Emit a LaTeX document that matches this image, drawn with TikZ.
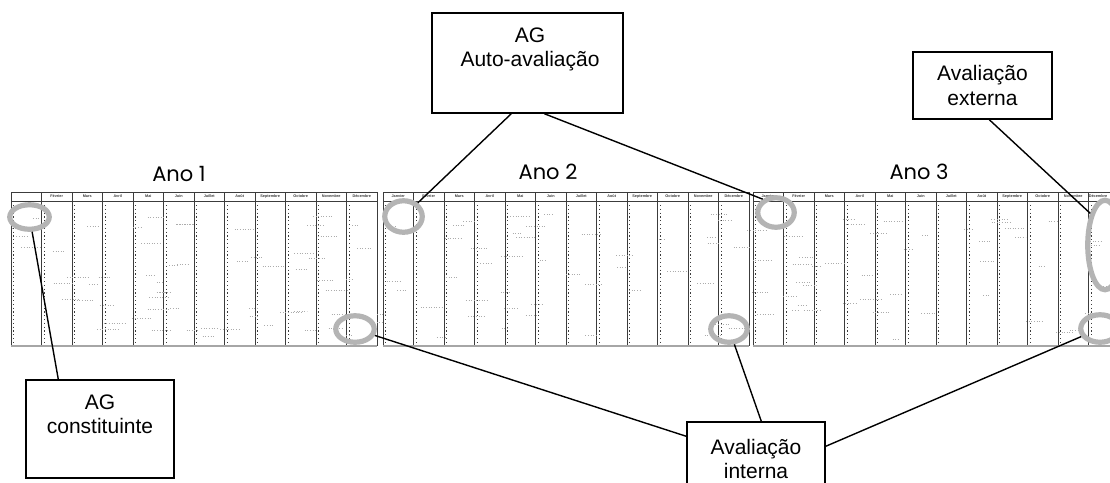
\documentclass[tikz,border=0pt]{standalone}
\usepackage{fontspec}
\setmainfont{Liberation Sans}
\newfontfamily\anofont{Poppins}
\usetikzlibrary{shapes.geometric,calc}
\definecolor{ringgray}{RGB}{180,180,180}
\definecolor{calgray}{RGB}{60,60,60}
\newcommand\calyear[2]{%
  \foreach \m [count=\i from 0] in {Janvier,Février,Mars,Avril,Mai,Juin,Juillet,Août,Septembre,Octobre,Novembre,Décembre}{%
    \pgfmathsetmacro\xl{#1+\i*30.5}
    \pgfmathsetmacro\xm{min(\xl+15.25,1098)}
    \draw[sepline] (\xl,192) -- (\xl,346);
    \draw[daydots] (\xl+2.5,205) -- (\xl+2.5,343);
    \ifnum\i<#2\relax\else \node[month] (m#1-\i) at (\xm,196.5) {\m};\fi
  }
  \draw[sepline] (#1+366,192) -- (#1+366,346);
  \draw[hline] (#1,192) -- (#1+366,192);
  \draw[hline] (#1,201) -- (#1+366,201);
  \draw[bline] (#1,346) -- (#1+366,346);
}
\begin{document}
\begin{tikzpicture}[x=1pt,y=-1pt,
  sepline/.style={draw=calgray,line width=0.6pt},
  daydots/.style={draw=calgray,line width=1pt,dash pattern=on 1.2pt off 2.6pt},
  hline/.style={draw=calgray,line width=0.6pt},
  bline/.style={draw=gray!70,line width=1.2pt},
  noise/.style={draw=gray!65,line width=0.6pt,dash pattern=on 1pt off 1.6pt},
  month/.style={font=\fontsize{3.8}{4}\selectfont\bfseries,inner sep=0pt,text=calgray},
  ring/.style={ellipse,draw=ringgray,line width=5.2pt,inner sep=0pt},
  box/.style={draw,line width=1.4pt,fill=white,inner sep=0pt},
  btext/.style={font=\fontsize{21}{24.5}\selectfont,align=center,inner sep=0pt},
  ano/.style={font=\anofont\fontsize{21}{24}\selectfont,inner sep=0pt},
  conn/.style={line width=1.4pt}]
\useasboundingbox (0,0) rectangle (1110,482);
\fill[white] (0,0) rectangle (1110,482);
% calendars
\calyear{11}{1}
\calyear{383}{0}
\calyear{753}{0}
\pgfmathsetseed{7}
\foreach \k in {1,...,150}{%
  \pgfmathsetmacro\rx{12+rnd*1090}
  \pgfmathsetmacro\ry{212+rnd*128}
  \pgfmathsetmacro\rl{6+rnd*16}
  \draw[noise] (\rx,\ry) -- ++(\rl,0);
}
% year titles
\node[ano] (ano1) at (179,174) {Ano 1};
\node[ano] (ano2) at (548,172) {Ano 2};
\node[ano] (ano3) at (919,172) {Ano 3};
% rings
\node[ring,minimum width=39.5pt,minimum height=24.5pt] (e1) at (29.5,217) {};
\node[ring,minimum width=38.5pt,minimum height=26.5pt] (e2) at (355,329) {};
\node[ring,minimum width=37.5pt,minimum height=31.5pt] (e3) at (403.5,216.5) {};
\node[ring,minimum width=36.5pt,minimum height=26.5pt] (e4) at (729,329) {};
\node[ring,minimum width=36.5pt,minimum height=29.5pt] (e5) at (776,212.5) {};
\node[ring,minimum width=34.5pt,minimum height=89.5pt] (e6) at (1105,245) {};
\node[ring,minimum width=38.5pt,minimum height=27.5pt] (e7) at (1100,328.5) {};
% boxes
\node[box,minimum width=191pt,minimum height=100pt] (auto) at (527.5,63) {};
\node[btext] (autotxt) at (530,49.5) {AG\\Auto-avaliação};
\node[box,btext,minimum width=139pt,minimum height=67pt] (ext) at (982.5,85.5) {Avaliação\\externa};
\node[box,minimum width=148pt,minimum height=98pt] (const) at (100,429) {};
\node[btext] (consttxt) at (100,414.5) {AG\\constituinte};
\node[box,btext,minimum width=138pt,minimum height=74pt] (int) at (756,459) {Avaliação\\interna};
% connectors
\draw[conn] ($(const.north west)+(33,0)$) -- (e1);
\draw[conn] ($(auto.south west)+(80,0)$) -- (e3);
\draw[conn] ($(auto.south west)+(113,0)$) -- (e5.135);
\draw[conn] ($(ext.south west)+(77,0)$) -- (e6.115);
\draw[conn] ($(int.north west)+(0,15)$) -- (e2);
\draw[conn] ($(int.north west)+(75,0)$) -- (e4);
\draw[conn] ($(int.north east)+(0,25)$) -- (e7);
\end{tikzpicture}
\end{document}
